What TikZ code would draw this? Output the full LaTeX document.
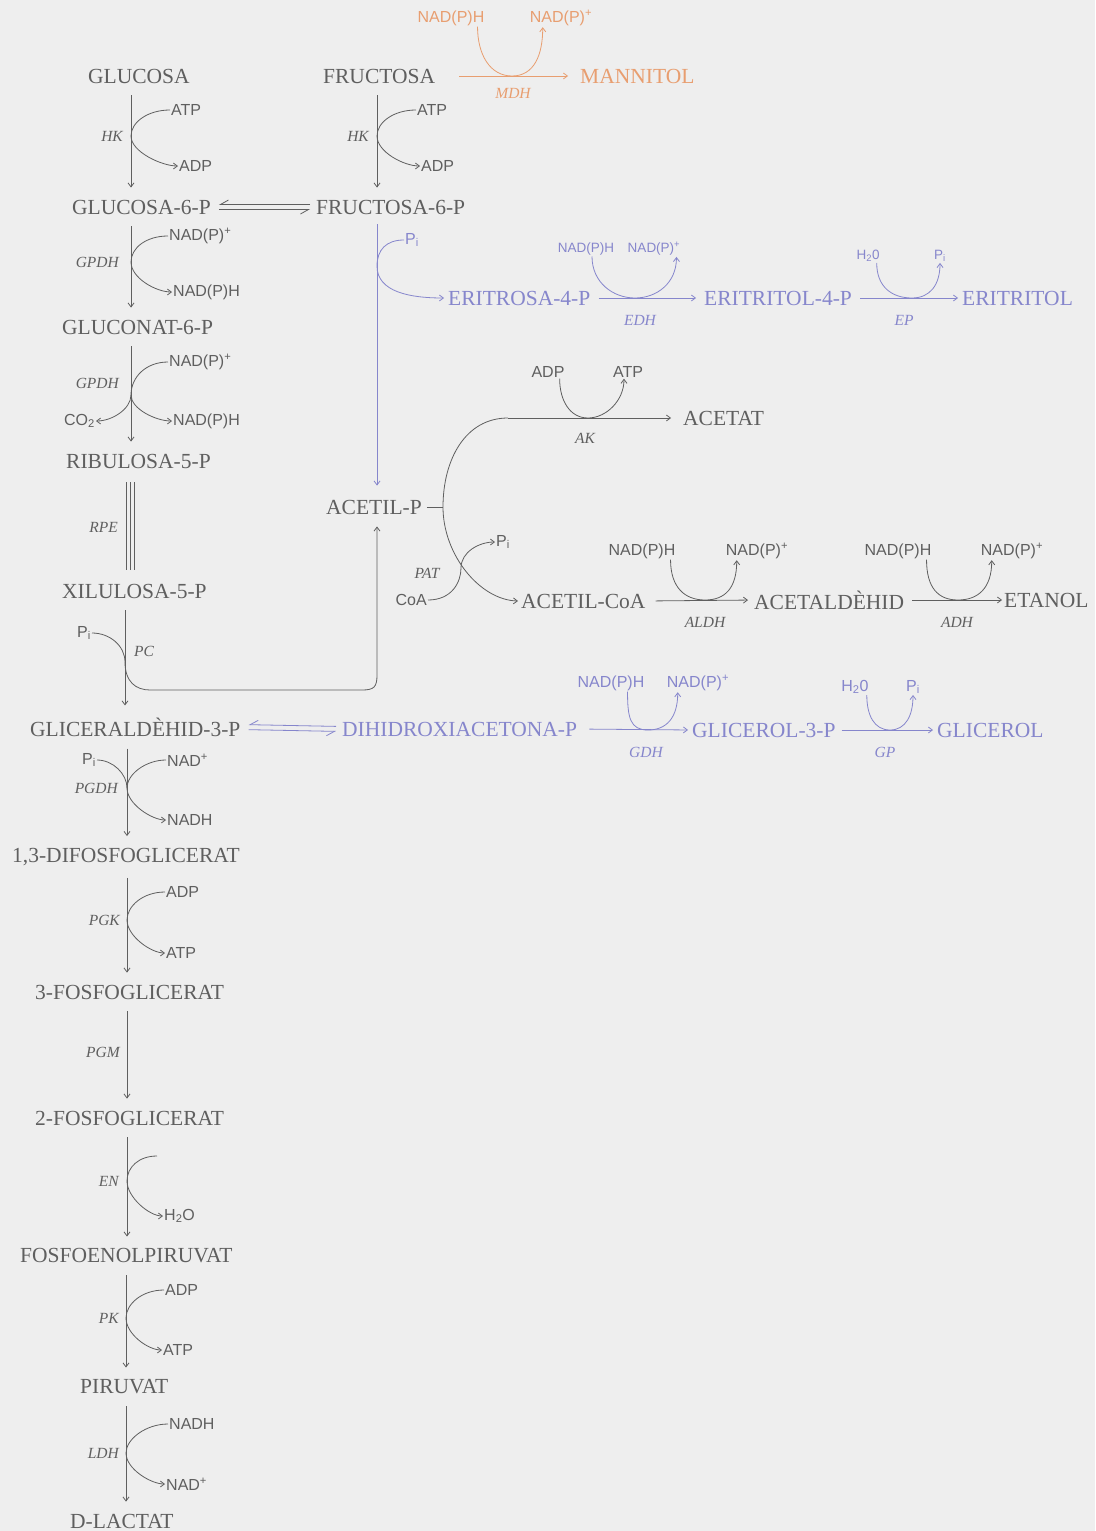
\documentclass[tikz,border=0pt]{standalone}
\usepackage{fontspec}
\setmainfont{Liberation Serif}
\newfontfamily\cofont{Liberation Sans}
\usetikzlibrary{arrows.meta}
\definecolor{bgc}{RGB}{238,238,238}
\definecolor{mc}{RGB}{95,95,95}
\definecolor{bc}{RGB}{134,134,204}
\definecolor{oc}{RGB}{232,158,112}
\tikzset{
  met/.style={inner sep=0pt, anchor=west, font=\fontsize{21.5}{24}\selectfont, text=mc},
  cof/.style={inner sep=1pt, font=\cofont\fontsize{16}{18}\selectfont, text=mc},
  cofs/.style={cof, font=\cofont\fontsize{13.5}{15}\selectfont},
  enz/.style={inner sep=0pt, font=\fontsize{15.5}{17}\selectfont\itshape, text=mc},
  ln/.style={draw=mc, line width=0.8pt},
  rx/.style={ln, -{Straight Barb[length=4pt,width=6pt]}},
  eqtop/.style={ln, -{Straight Barb[right,length=8pt,width=9pt]}},
  vstep/.style={rx, shorten <=12pt, shorten >=12pt},
}
\begin{document}
\begin{tikzpicture}[x=1pt,y=-1pt]
\fill[bgc] (0,0) rectangle (1095,1531);
\useasboundingbox (0,0) rectangle (1095,1531);

% ---------- metabolites, main column ----------
\node[met] (glc)  at (88,76)   {GLUCOSA};
\node[met] (fru)  at (323,76)  {FRUCTOSA};
\node[met,text=oc] (man) at (580,76) {MANNITOL};
\node[met] (g6p)  at (72,207)  {GLUCOSA-6-P};
\node[met] (f6p)  at (316,207) {FRUCTOSA-6-P};
\node[met] (glcn) at (62,327)  {GLUCONAT-6-P};
\node[met] (rib)  at (66,461)  {RIBULOSA-5-P};
\node[met] (xil)  at (62,591)  {XILULOSA-5-P};
\node[met] (gal)  at (30,727)  {GLICERALDÈHID-3-P};
\node[met] (dpg)  at (12,857)  {1,3-DIFOSFOGLICERAT};
\node[met] (pgc)  at (35,992)  {3-FOSFOGLICERAT};
\node[met] (pgb)  at (35,1118) {2-FOSFOGLICERAT};
\node[met] (pep)  at (20,1256) {FOSFOENOLPIRUVAT};
\node[met] (pyr)  at (80,1387) {PIRUVAT};
\node[met] (lac)  at (70,1521) {D-LACTAT};

% ---------- other metabolites ----------
\node[met] (acp)    at (326,507) {ACETIL-P};
\node[met] (acetat) at (683,418) {ACETAT};
\node[met] (acoa)   at (521,601) {ACETIL-CoA};
\node[met] (acald)  at (754,600) {ACETALDÈHID};
\node[met] (etoh)   at (1004,600) {ETANOL};
\node[met,text=bc] (eri)  at (448,298) {ERITROSA-4-P};
\node[met,text=bc] (et4p) at (704,298) {ERITRITOL-4-P};
\node[met,text=bc] (etl)  at (962,298) {ERITRITOL};
\node[met,text=bc] (dha)  at (342,729) {DIHIDROXIACETONA-P};
\node[met,text=bc] (g3p)  at (692,730) {GLICEROL-3-P};
\node[met,text=bc] (gly)  at (937,730) {GLICEROL};

% ---------- HK (glucose) ----------
\coordinate (hkgt) at (131,136);
\draw[vstep] (glc.south -| hkgt) -- (g6p.north -| hkgt);
\node[cof,anchor=west] (atpg) at (170,110) {ATP};
\node[cof,anchor=west] (adpg) at (178,166) {ADP};
\node[enz,anchor=east] (hkg) at (123,136) {HK};
\draw[rx] (atpg.west) .. controls +(-22,0) and +(0,-14) .. (hkgt) .. controls +(0,16) and +(-16,0) .. (adpg.west);

% ---------- HK (fructose) ----------
\coordinate (hkft) at (377,136);
\draw[vstep] (fru.south -| hkft) -- (f6p.north -| hkft);
\node[cof,anchor=west] (atpf) at (416,110) {ATP};
\node[cof,anchor=west] (adpf) at (420,166) {ADP};
\node[enz,anchor=east] (hkf) at (369,136) {HK};
\draw[rx] (atpf.west) .. controls +(-22,0) and +(0,-14) .. (hkft) .. controls +(0,16) and +(-16,0) .. (adpf.west);

% ---------- MDH ----------
\draw[rx,draw=oc,shorten <=24pt,shorten >=12pt] (fru.east) -- (man.west);
\node[cof,text=oc] (mdha) at (451,18) {NAD(P)H};
\node[cof,text=oc] (mdhb) at (561,18) {NAD(P)\textsuperscript{+}};
\node[enz,text=oc] (mdh) at (513,93) {MDH};
\coordinate (mdhm) at (512,76);
\draw[rx,draw=oc] ([xshift=-8pt]mdha.south east) .. controls +(0,28) and +(-22,0) .. (mdhm) .. controls +(22,0) and +(0,28) .. ([xshift=14pt]mdhb.south west);

% ---------- G6P <-> F6P ----------
\draw[eqtop,shorten <=6pt,shorten >=8pt] ([yshift=2.5pt]f6p.west) -- ([yshift=2.5pt]g6p.east);
\draw[eqtop,shorten <=8pt,shorten >=6pt] ([yshift=-2.5pt]g6p.east) -- ([yshift=-2.5pt]f6p.west);

% ---------- GPDH 1 ----------
\coordinate (gpat) at (131,262);
\draw[vstep] (g6p.south -| gpat) -- (glcn.north -| gpat);
\node[cof,anchor=west] (nadpa) at (168,236) {NAD(P)\textsuperscript{+}};
\node[cof,anchor=west] (nadpha) at (172,292) {NAD(P)H};
\node[enz,anchor=east] (gpdha) at (119,262) {GPDH};
\draw[rx] (nadpa.west) .. controls +(-22,0) and +(0,-14) .. (gpat) .. controls +(0,16) and +(-16,0) .. (nadpha.west);

% ---------- GPDH 2 ----------
\coordinate (gpbt) at (131,395);
\draw[vstep] (glcn.south -| gpbt) -- (rib.north -| gpbt);
\node[cof,anchor=west] (nadpb) at (168,362) {NAD(P)\textsuperscript{+}};
\node[cof,anchor=west] (nadphb) at (172,421) {NAD(P)H};
\node[cof,anchor=east] (co2) at (96,421) {CO\textsubscript{2}};
\node[enz,anchor=east] (gpdhb) at (119,383) {GPDH};
\draw[ln] (nadpb.west) .. controls +(-22,0) and +(0,-18) .. (gpbt);
\draw[rx] (gpbt) .. controls +(0,14) and +(-16,0) .. (nadphb.west);
\draw[rx] (gpbt) .. controls +(0,14) and +(16,0) .. (co2.east);

% ---------- RPE ----------
\coordinate (rpa) at (126,0);
\coordinate (rpb) at (130,0);
\coordinate (rpc) at (134,0);
\draw[ln,shorten <=14pt,shorten >=14pt] (rib.south -| rpa) -- (xil.north -| rpa);
\draw[ln,shorten <=14pt,shorten >=14pt] (rib.south -| rpb) -- (xil.north -| rpb);
\draw[ln,shorten <=14pt,shorten >=14pt] (rib.south -| rpc) -- (xil.north -| rpc);
\node[enz,anchor=east] (rpe) at (118,527) {RPE};

% ---------- PC ----------
\coordinate (pct) at (125,662);
\draw[vstep] (xil.south -| pct) -- (gal.north -| pct);
\node[cof,anchor=east] (pia) at (92,633) {P\textsubscript{i}};
\node[enz,anchor=west] (pc) at (134,651) {PC};
\draw[ln] (pia.east) .. controls +(18,0) and +(0,-16) .. (pct);
\coordinate (lpa) at (150,690);
\coordinate (lpb) at (362,690);
\coordinate (lpc) at (377,675);
\draw[rx,shorten >=12pt] (pct) .. controls +(0,20) and +(-14,0) .. (lpa) -- (lpb) .. controls +(12,0) and +(0,12) .. (lpc) -- (acp.south -| lpc);

% ---------- F6P -> ERITROSA / ACETIL-P (blue) ----------
\coordinate (bxt) at (377,266);
\draw[rx,draw=bc,shorten <=10pt,shorten >=14pt] (f6p.south -| bxt) -- (acp.north -| bxt);
\node[cof,anchor=west,text=bc] (pib) at (404,240) {P\textsubscript{i}};
\draw[rx,draw=bc] (pib.west) .. controls +(-18,0) and +(0,-16) .. (bxt) .. controls +(0,26) and +(-34,0) .. ([xshift=-4pt]eri.west);

% ---------- EDH ----------
\draw[rx,draw=bc,shorten <=8pt,shorten >=8pt] (eri.east) -- (et4p.west);
\node[cofs,text=bc] (edha) at (586,249) {NAD(P)H};
\node[cofs,text=bc] (edhb) at (654,249) {NAD(P)\textsuperscript{+}};
\node[enz,text=bc] (edh) at (640,320) {EDH};
\coordinate (edhm) at (635,298);
\draw[rx,draw=bc] ([xshift=6pt]edha.south) .. controls +(0,26) and +(-22,0) .. (edhm) .. controls +(22,0) and +(0,26) .. ([xshift=-5pt]edhb.south east);

% ---------- EP ----------
\draw[rx,draw=bc,shorten <=8pt,shorten >=4pt] (et4p.east) -- (etl.west);
\node[cofs,text=bc] (epa) at (868,256) {H\textsubscript{2}0};
\node[cofs,text=bc] (epb) at (940,256) {P\textsubscript{i}};
\node[enz,text=bc] (ep) at (904,320) {EP};
\coordinate (epm) at (912,298);
\draw[rx,draw=bc] ([xshift=-4pt]epa.south east) .. controls +(0,24) and +(-20,0) .. (epm) .. controls +(18,0) and +(0,22) .. (epb.south);

% ---------- AK / PAT ----------
\coordinate (aks) at (508,418);
\coordinate (akc) at (443,507);
\draw[ln,shorten <=5pt] (acp.east) -- (akc);
\draw[rx,shorten >=12pt] (aks) -- (acetat.west);
\draw[rx] (aks) .. controls (465,418) and (443,460) .. (akc) .. controls (443,555) and (480,600) .. ([xshift=-3pt]acoa.west);
\node[cof] (adpk) at (548,372) {ADP};
\node[cof] (atpk) at (628,372) {ATP};
\node[enz] (ak) at (585,438) {AK};
\coordinate (akm) at (588,418);
\draw[rx] ([xshift=-6pt]adpk.south east) .. controls +(0,22) and +(-18,0) .. (akm) .. controls +(18,0) and +(0,22) .. ([xshift=-4pt]atpk.south);
\node[cof,anchor=east] (coa) at (428,600) {CoA};
\node[cof,anchor=west] (pip) at (495,542) {P\textsubscript{i}};
\node[enz] (pat) at (427,573) {PAT};
\coordinate (patm) at (461,568);
\draw[rx] (coa.east) .. controls +(24,0) and +(0,14) .. (patm) .. controls +(0,-16) and +(-16,0) .. (pip.west);

% ---------- ALDH ----------
\draw[rx,shorten <=10pt,shorten >=6pt] (acoa.east) -- (acald.west);
\node[cof] (aldha) at (642,551) {NAD(P)H};
\node[cof] (aldhb) at (757,551) {NAD(P)\textsuperscript{+}};
\node[enz] (aldh) at (705,622) {ALDH};
\coordinate (aldhm) at (705,600);
\draw[rx] ([xshift=-6pt]aldha.south east) .. controls +(0,28) and +(-20,0) .. (aldhm) .. controls +(20,0) and +(0,28) .. ([xshift=12pt]aldhb.south west);

% ---------- ADH ----------
\draw[rx,shorten <=8pt,shorten >=2pt] (acald.east) -- (etoh.west);
\node[cof] (adha) at (898,551) {NAD(P)H};
\node[cof] (adhb) at (1012,551) {NAD(P)\textsuperscript{+}};
\node[enz] (adh) at (957,622) {ADH};
\coordinate (adhm) at (958,600);
\draw[rx] ([xshift=-6pt]adha.south east) .. controls +(0,28) and +(-20,0) .. (adhm) .. controls +(20,0) and +(0,28) .. ([xshift=12pt]adhb.south west);

% ---------- GAP <-> DHAP (blue) ----------
\draw[eqtop,draw=bc,shorten <=6pt,shorten >=8pt] ([yshift=2.5pt]dha.west) -- ([yshift=2.5pt]gal.east);
\draw[eqtop,draw=bc,shorten <=8pt,shorten >=6pt] ([yshift=-2.5pt]gal.east) -- ([yshift=-2.5pt]dha.west);

% ---------- GDH ----------
\draw[rx,draw=bc,shorten <=12pt,shorten >=4pt] (dha.east) -- (g3p.west);
\node[cof,text=bc] (gdha) at (611,683) {NAD(P)H};
\node[cof,text=bc] (gdhb) at (698,683) {NAD(P)\textsuperscript{+}};
\node[enz,text=bc] (gdh) at (646,752) {GDH};
\coordinate (gdhm) at (648,730);
\draw[rx,draw=bc] ([xshift=-18pt]gdha.south east) .. controls +(0,26) and +(-18,0) .. (gdhm) .. controls +(18,0) and +(0,26) .. ([xshift=12pt]gdhb.south west);

% ---------- GP ----------
\draw[rx,draw=bc,shorten <=6pt,shorten >=4pt] (g3p.east) -- (gly.west);
\node[cof,text=bc] (gpa) at (855,687) {H\textsubscript{2}0};
\node[cof,text=bc] (gpb) at (913,687) {P\textsubscript{i}};
\node[enz,text=bc] (gp) at (885,752) {GP};
\coordinate (gpm) at (890,730);
\draw[rx,draw=bc] ([xshift=-3pt]gpa.south east) .. controls +(0,20) and +(-16,0) .. (gpm) .. controls +(16,0) and +(0,20) .. (gpb.south);

% ---------- PGDH ----------
\coordinate (pgdt) at (127,788);
\draw[vstep] (gal.south -| pgdt) -- (dpg.north -| pgdt);
\node[cof,anchor=east] (pic) at (97,760) {P\textsubscript{i}};
\node[cof,anchor=west] (nadc) at (166,760) {NAD\textsuperscript{+}};
\node[cof,anchor=west] (nadhc) at (166,820) {NADH};
\node[enz,anchor=east] (pgdh) at (118,788) {PGDH};
\draw[ln] (pic.east) .. controls +(16,0) and +(0,-14) .. (pgdt);
\draw[ln] (nadc.west) .. controls +(-20,0) and +(0,-14) .. (pgdt);
\draw[rx] (pgdt) .. controls +(0,16) and +(-14,0) .. (nadhc.west);

% ---------- PGK ----------
\coordinate (pgkt) at (127,920);
\draw[vstep] (dpg.south -| pgkt) -- (pgc.north -| pgkt);
\node[cof,anchor=west] (adpd) at (165,892) {ADP};
\node[cof,anchor=west] (atpd) at (165,953) {ATP};
\node[enz,anchor=east] (pgk) at (120,920) {PGK};
\draw[rx] (adpd.west) .. controls +(-22,0) and +(0,-14) .. (pgkt) .. controls +(0,16) and +(-14,0) .. (atpd.west);

% ---------- PGM ----------
\coordinate (pgmx) at (127,1052);
\draw[vstep] (pgc.south -| pgmx) -- (pgb.north -| pgmx);
\node[enz,anchor=east] (pgm) at (120,1052) {PGM};

% ---------- EN ----------
\coordinate (ent) at (127,1181);
\coordinate (ens) at (157,1156);
\draw[vstep] (pgb.south -| ent) -- (pep.north -| ent);
\node[cof,anchor=west] (h2oe) at (163,1216) {H\textsubscript{2}O};
\node[enz,anchor=east] (en) at (119,1181) {EN};
\draw[rx] (ens) .. controls +(-18,0) and +(0,-14) .. (ent) .. controls +(0,16) and +(-14,0) .. (h2oe.west);

% ---------- PK ----------
\coordinate (pkt) at (126,1318);
\draw[vstep] (pep.south -| pkt) -- (pyr.north -| pkt);
\node[cof,anchor=west] (adpf2) at (164,1290) {ADP};
\node[cof,anchor=west] (atpf2) at (162,1350) {ATP};
\node[enz,anchor=east] (pk) at (119,1318) {PK};
\draw[rx] (adpf2.west) .. controls +(-22,0) and +(0,-14) .. (pkt) .. controls +(0,16) and +(-14,0) .. (atpf2.west);

% ---------- LDH ----------
\coordinate (ldht) at (126,1453);
\draw[vstep] (pyr.south -| ldht) -- (lac.north -| ldht);
\node[cof,anchor=west] (nadhg) at (168,1424) {NADH};
\node[cof,anchor=west] (nadg) at (165,1484) {NAD\textsuperscript{+}};
\node[enz,anchor=east] (ldh) at (119,1453) {LDH};
\draw[rx] (nadhg.west) .. controls +(-22,0) and +(0,-14) .. (ldht) .. controls +(0,16) and +(-14,0) .. (nadg.west);
\end{tikzpicture}
\end{document}
